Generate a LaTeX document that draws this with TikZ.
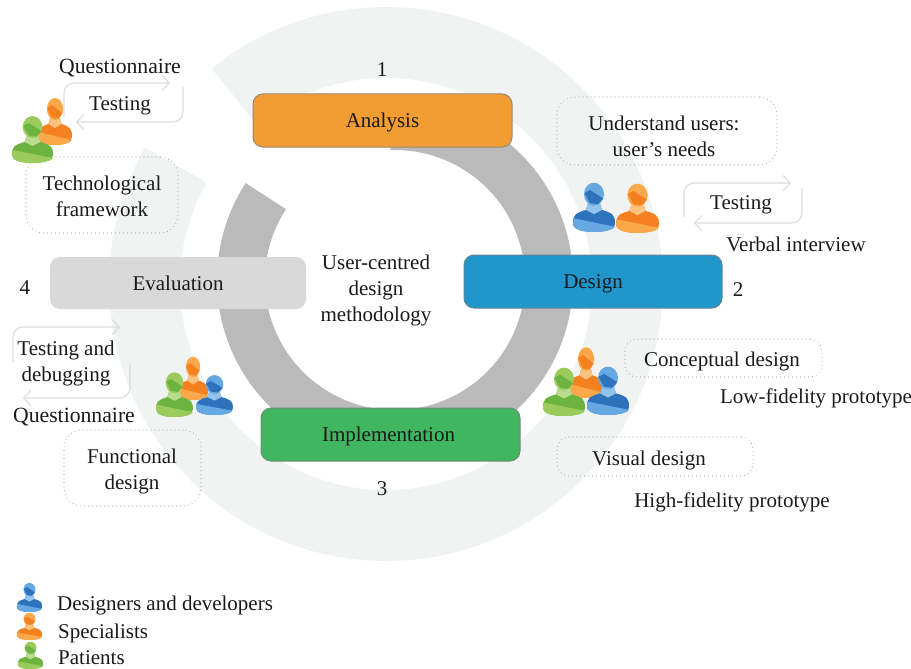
\documentclass[tikz,border=0pt]{standalone}
\usepackage{fontspec}
\setmainfont{Liberation Serif}
\usetikzlibrary{arrows.meta}
\definecolor{ringlight}{HTML}{F1F3F3}
\definecolor{ringgray}{HTML}{BABABA}
\definecolor{boxorange}{HTML}{F29D33}
\definecolor{boxblue}{HTML}{2196CB}
\definecolor{boxgreen}{HTML}{3FB65F}
\definecolor{boxgray}{HTML}{D9D9D9}
\definecolor{loopgray}{HTML}{DADCDC}
\definecolor{dotgray}{HTML}{A8AAAA}
\definecolor{txt}{HTML}{1A1A1A}
\definecolor{bluedark}{HTML}{2F72BC}
\definecolor{bluelight}{HTML}{66A9E2}
\definecolor{orangedark}{HTML}{F4801F}
\definecolor{orangelight}{HTML}{FAA84A}
\definecolor{greendark}{HTML}{6DB33F}
\definecolor{greenlight}{HTML}{9BCB5C}
\newcommand\lblfont{\fontsize{21}{26}\selectfont}
\newcommand\lblwide{\fontsize{21.7}{26}\selectfont}
\tikzset{
  lbl/.style={text=txt,inner sep=0pt,align=center,font=\lblfont},
  stagebox/.style={rounded corners=10pt,draw=#1!25!gray,fill=#1,line width=1pt,minimum height=53pt,inner sep=0pt,lbl},
  note/.style={draw=dotgray,line width=1.1pt,line cap=round,rounded corners=18pt,dash pattern=on 0pt off 4pt,inner sep=0pt},
  loopline/.style={draw=loopgray,line width=1.1pt,rounded corners=10pt,-{Straight Barb[length=7pt,width=15pt,line width=1.1pt]}},
}
% x, bottom y, xscale, yscale, dark, light
\newcommand\person[6]{%
\begin{scope}[shift={(#1,#2)},xscale=#3,yscale=#4]
  \fill[#5] (-21,-8) .. controls (-21,-16) and (-19,-18) .. (-8,-21)
    -- (-6,-27) -- (6,-27) -- (8,-21)
    .. controls (19,-18) and (21,-16) .. (21,-8)
    .. controls (21,-2) and (10,0) .. (0,0)
    .. controls (-10,0) and (-21,-2) .. (-21,-8) -- cycle;
  \fill[#6] (-21,-8) -- (-20.5,-13) -- (21,-5)
    .. controls (19,-1.5) and (8,0) .. (0,0)
    .. controls (-10,0) and (-21,-2) .. (-21,-8) -- cycle;
  \fill[#6!70!white] (-6,-27) -- (6,-27) -- (8,-21) -- (0,-17) -- (-8,-21) -- cycle;
  \fill[#6] (0,-36) ellipse[x radius=10,y radius=11];
  \fill[#5] (-9.5,-37) -- (-4,-40) -- (9,-32) -- (4,-26.5) -- (-4,-27.5) -- cycle;
\end{scope}}
\begin{document}
\begin{tikzpicture}[x=1pt,y=-1pt]
\useasboundingbox (0,0) rectangle (911,669);
\coordinate (outer) at (386,284);
\coordinate (inner) at (395,280);
% rings
\fill[ringlight] (outer) ++(-129:277) arc[start angle=-129,end angle=209.5,radius=277]
  -- ++(209.5:-71) arc[start angle=209.5,end angle=-129,radius=206] -- cycle;
\fill[ringgray] (inner) ++(-92:178) arc[start angle=-92,end angle=213,radius=178]
  -- ++(213:-48) arc[start angle=213,end angle=-92,radius=130] -- cycle;
% stages
\node[stagebox=boxorange,minimum width=259pt,text height=14pt,text depth=0pt] (analysis) at (382.5,120.5) {Analysis};
\node[stagebox=boxblue,minimum width=258pt,text height=14pt,text depth=0pt] (design) at (593,281.5) {Design};
\node[stagebox=boxgreen,minimum width=259pt,text height=14pt,text depth=0pt] (impl) at (390.5,434.5) {\hspace*{-4pt}Implementation};
\node[rounded corners=10pt,fill=boxgray,minimum width=256pt,minimum height=52pt,inner sep=0pt,lbl,text height=14pt,text depth=0pt] (eval) at (178,283) {Evaluation};
% dotted notes
\node[note,minimum width=152pt,minimum height=76pt] (ntech) at (102,195) {};
\node[note,minimum width=220pt,minimum height=68pt] (nunder) at (667,131) {};
\node[note,minimum width=137pt,minimum height=76pt] (nfunc) at (132.5,468) {};
\node[note,minimum width=197pt,minimum height=38pt,rounded corners=12pt] (nconc) at (723.5,358) {};
\node[note,minimum width=196pt,minimum height=39pt,rounded corners=12pt] (nvis) at (655,456.5) {};
% loops
\coordinate (a1) at (64,117); \coordinate (a2) at (64,83); \coordinate (a3) at (170,83);
\coordinate (b1) at (183,87); \coordinate (b2) at (183,122); \coordinate (b3) at (76,122);
\draw[loopline] (a1) -- (a2) -- (a3);
\draw[loopline] (b1) -- (b2) -- (b3);
\coordinate (c1) at (684,217); \coordinate (c2) at (684,183); \coordinate (c3) at (791,183);
\coordinate (d1) at (802,188); \coordinate (d2) at (802,223); \coordinate (d3) at (694,223);
\draw[loopline] (c1) -- (c2) -- (c3);
\draw[loopline] (d1) -- (d2) -- (d3);
\coordinate (e1) at (13,362); \coordinate (e2) at (13,327); \coordinate (e3) at (120,327);
\coordinate (f1) at (130,363); \coordinate (f2) at (130,398); \coordinate (f3) at (23,398);
\draw[loopline] (e1) -- (e2) -- (e3);
\draw[loopline] (f1) -- (f2) -- (f3);
% people
\person{55}{145}{0.81}{1}{orangedark}{orangelight}
\person{32.5}{163}{0.98}{1}{greendark}{greenlight}
\person{594}{232}{1}{1.05}{bluedark}{bluelight}
\person{637.5}{233}{1.02}{1.05}{orangedark}{orangelight}
\person{193}{400}{0.72}{0.92}{orangedark}{orangelight}
\person{174.5}{417}{0.88}{0.95}{greendark}{greenlight}
\person{214.5}{415}{0.88}{0.85}{bluedark}{bluelight}
\person{586}{398}{0.81}{1.08}{orangedark}{orangelight}
\person{564}{416}{1}{1.03}{greendark}{greenlight}
\person{608}{415}{1}{1.03}{bluedark}{bluelight}
\person{29.5}{612}{0.6}{0.62}{bluedark}{bluelight}
\person{29.5}{640}{0.6}{0.58}{orangedark}{orangelight}
\person{30.5}{669}{0.6}{0.58}{greendark}{greenlight}
% texts
\node[lbl,font=\lblwide] (tq1) at (120,68) {Questionnaire};
\node[lbl] (tt1) at (120,106) {Testing};
\node[lbl] (n1) at (382,70) {1};
\node[lbl] (tunder) at (664,136) {Understand users:\\user’s needs};
\node[lbl] (tt2) at (741,205) {Testing};
\node[lbl] (tverb) at (796,244) {Verbal interview};
\node[lbl] (n2) at (738,290) {2};
\node[lbl] (tucd) at (376,290) {User-centred\\design\\methodology};
\node[lbl] (n4) at (25,288) {4};
\node[lbl] (ttech) at (102,196) {Technological\\framework};
\node[lbl] (ttd) at (66,363) {Testing and\\debugging};
\node[lbl,font=\lblwide] (tq2) at (74,417) {Questionnaire};
\node[lbl] (tfunc) at (132,471) {Functional\\design};
\node[lbl] (n3) at (382,489) {3};
\node[lbl] (tconc) at (722,361) {Conceptual design};
\node[lbl] (tlow) at (816,398) {Low-fidelity prototype};
\node[lbl] (tvis) at (649,460) {Visual design};
\node[lbl] (thigh) at (732,502) {High-fidelity prototype};
\node[lbl,anchor=west] (ld) at (57,605) {Designers and developers};
\node[lbl,anchor=west] (ls) at (58,633) {Specialists};
\node[lbl,anchor=west] (lp) at (58,658) {Patients};
\end{tikzpicture}
\end{document}
